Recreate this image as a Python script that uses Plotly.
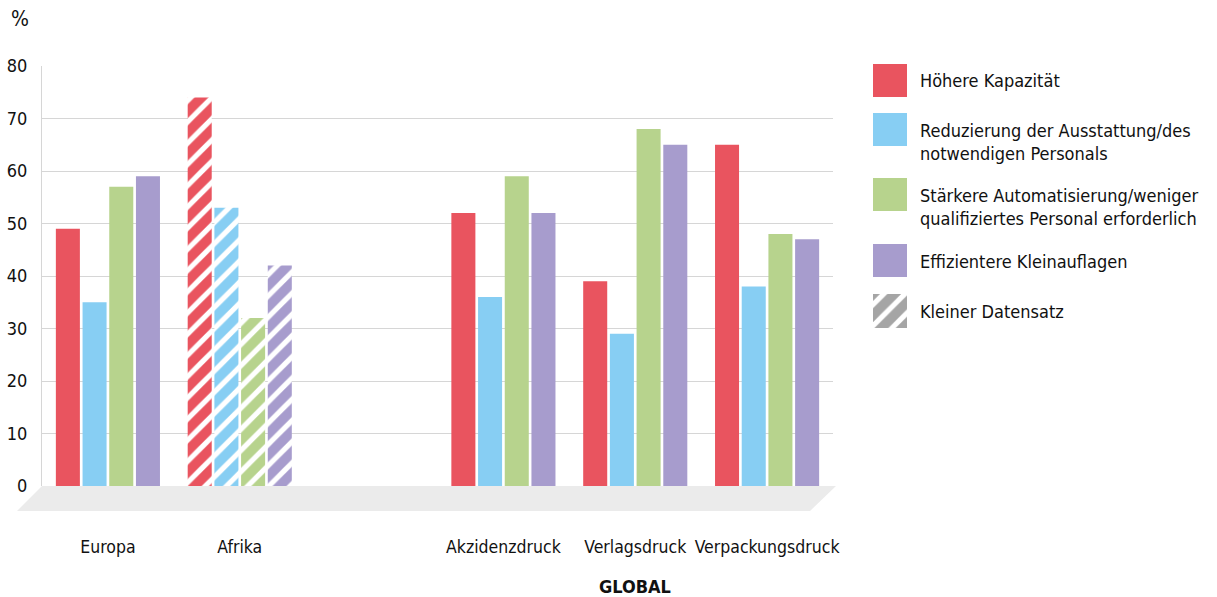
import plotly.graph_objects as go

# ---- data ----
categories = ["Europa", "Afrika", "Akzidenzdruck", "Verlagsdruck", "Verpackungsdruck"]
cat_pos = [0, 1, 3, 4, 5]
series_names = [
    "Höhere Kapazität",
    "Reduzierung der Ausstattung/des<br>notwendigen Personals",
    "Stärkere Automatisierung/weniger<br>qualifiziertes Personal erforderlich",
    "Effizientere Kleinauflagen",
]
hoehere_kapazitaet = [49, 74, 52, 39, 65]
reduzierung = [35, 53, 36, 29, 38]
automatisierung = [57, 32, 59, 68, 48]
kleinauflagen = [59, 42, 52, 65, 47]
small_dataset = [False, True, False, False, False]
y_ticks = [0, 10, 20, 30, 40, 50, 60, 70, 80]
colors = ["#E9545F", "#87CEF3", "#B7D38D", "#A79CCD"]

FONT = "DejaVu Sans Condensed, Liberation Sans Narrow, sans-serif"
TXT = "#111111"
FS = 18

W, H = 1217, 597
L, R, T, B = 42, 10, 66, 111
PW, PH = W - L - R, H - T - B
def px(x):
    return (x - L) / PW
def py(y):
    return (H - B - y) / PH

fig = go.Figure()
all_series = [hoehere_kapazitaet, reduzierung, automatisierung, kleinauflagen]
for name, vals, col in zip(series_names, all_series, colors):
    fig.add_trace(go.Bar(
        x=cat_pos, y=vals, name=name, showlegend=False,
        marker=dict(
            color=col, line=dict(width=0),
            pattern=dict(
                shape=["/" if s else "" for s in small_dataset],
                fgcolor=col, bgcolor="white", size=15, solidity=0.65,
                fillmode="replace",
            ),
        ),
        xaxis="x", yaxis="y",
    ))

# hatched legend swatch (small axis)
fig.add_trace(go.Bar(
    x=[0], y=[1], width=[1], showlegend=False, hoverinfo="skip",
    marker=dict(color="#a5a5a5", line=dict(width=0),
                pattern=dict(shape="/", fgcolor="#a5a5a5", bgcolor="white",
                             size=15, solidity=0.65, fillmode="replace")),
    xaxis="x2", yaxis="y2",
))

shapes = []
# floor
shapes.append(dict(
    type="path", xref="paper", yref="paper", layer="below",
    path=f"M {px(42)},{py(486)} L {px(836)},{py(486)} L {px(810)},{py(511)} L {px(17)},{py(511)} Z",
    fillcolor="#ebebeb", line=dict(width=0),
))
annotations = []
# legend swatches + text
leg_y = [80.5, 129.5, 194.5, 260.5]
leg_text = [
    "Höhere Kapazität",
    "Reduzierung der Ausstattung/des<br>notwendigen Personals",
    "Stärkere Automatisierung/weniger<br>qualifiziertes Personal erforderlich",
    "Effizientere Kleinauflagen",
]
for yc, col, txt in zip(leg_y, colors, leg_text):
    shapes.append(dict(type="rect", xref="paper", yref="paper",
                       x0=px(873), x1=px(907), y0=py(yc + 16.5), y1=py(yc - 16.5),
                       fillcolor=col, line=dict(width=0)))
    annotations.append(dict(xref="paper", yref="paper", x=px(918), y=py(yc - 12),
                            xanchor="left", yanchor="top", align="left", showarrow=False,
                            text=txt, font=dict(family=FONT, size=FS, color=TXT)))
annotations.append(dict(xref="paper", yref="paper", x=px(918), y=py(311 - 12),
                        xanchor="left", yanchor="top", align="left", showarrow=False,
                        text="Kleiner Datensatz", font=dict(family=FONT, size=FS, color=TXT)))
# % label
annotations.append(dict(xref="paper", yref="paper", x=px(20), y=py(19),
                        xanchor="center", yanchor="middle", showarrow=False,
                        text="%", font=dict(family=FONT, size=21, color=TXT)))
# GLOBAL
annotations.append(dict(xref="x", yref="paper", x=4, y=py(586),
                        xanchor="center", yanchor="middle", showarrow=False,
                        text="<b>GLOBAL</b>", font=dict(family=FONT, size=FS, color=TXT)))

fig.update_layout(
    width=W, height=H,
    margin=dict(l=L, r=R, t=T, b=B, pad=0, autoexpand=False),
    paper_bgcolor="white", plot_bgcolor="white",
    barmode="group", bargap=0.19, bargroupgap=0.1,
    font=dict(family=FONT, size=FS, color=TXT),
    xaxis=dict(
        domain=[0, px(833)], range=[-0.5, 5.5],
        tickvals=cat_pos, ticktext=categories, tickangle=0,
        ticks="outside", ticklen=45, tickcolor="rgba(0,0,0,0)",
        showgrid=False, zeroline=False, showline=False, automargin=False,
        tickfont=dict(family=FONT, size=17.5, color=TXT),
        fixedrange=True,
    ),
    yaxis=dict(
        range=[0, 80], tickvals=y_ticks,
        showgrid=True, gridcolor="#d6d6d6", gridwidth=1,
        zeroline=False, showline=True, linecolor="#d6d6d6", linewidth=1,
        ticks="outside", ticklen=10, tickcolor="rgba(0,0,0,0)", automargin=False,
        tickfont=dict(family=FONT, size=FS, color=TXT),
        fixedrange=True,
    ),
    xaxis2=dict(domain=[px(873), px(907)], range=[-0.5, 0.5], visible=False,
                anchor="y2", fixedrange=True),
    yaxis2=dict(domain=[py(328), py(294)], range=[0, 1], visible=False,
                anchor="x2", fixedrange=True),
    shapes=shapes, annotations=annotations,
)

fig.write_html("out.html")
